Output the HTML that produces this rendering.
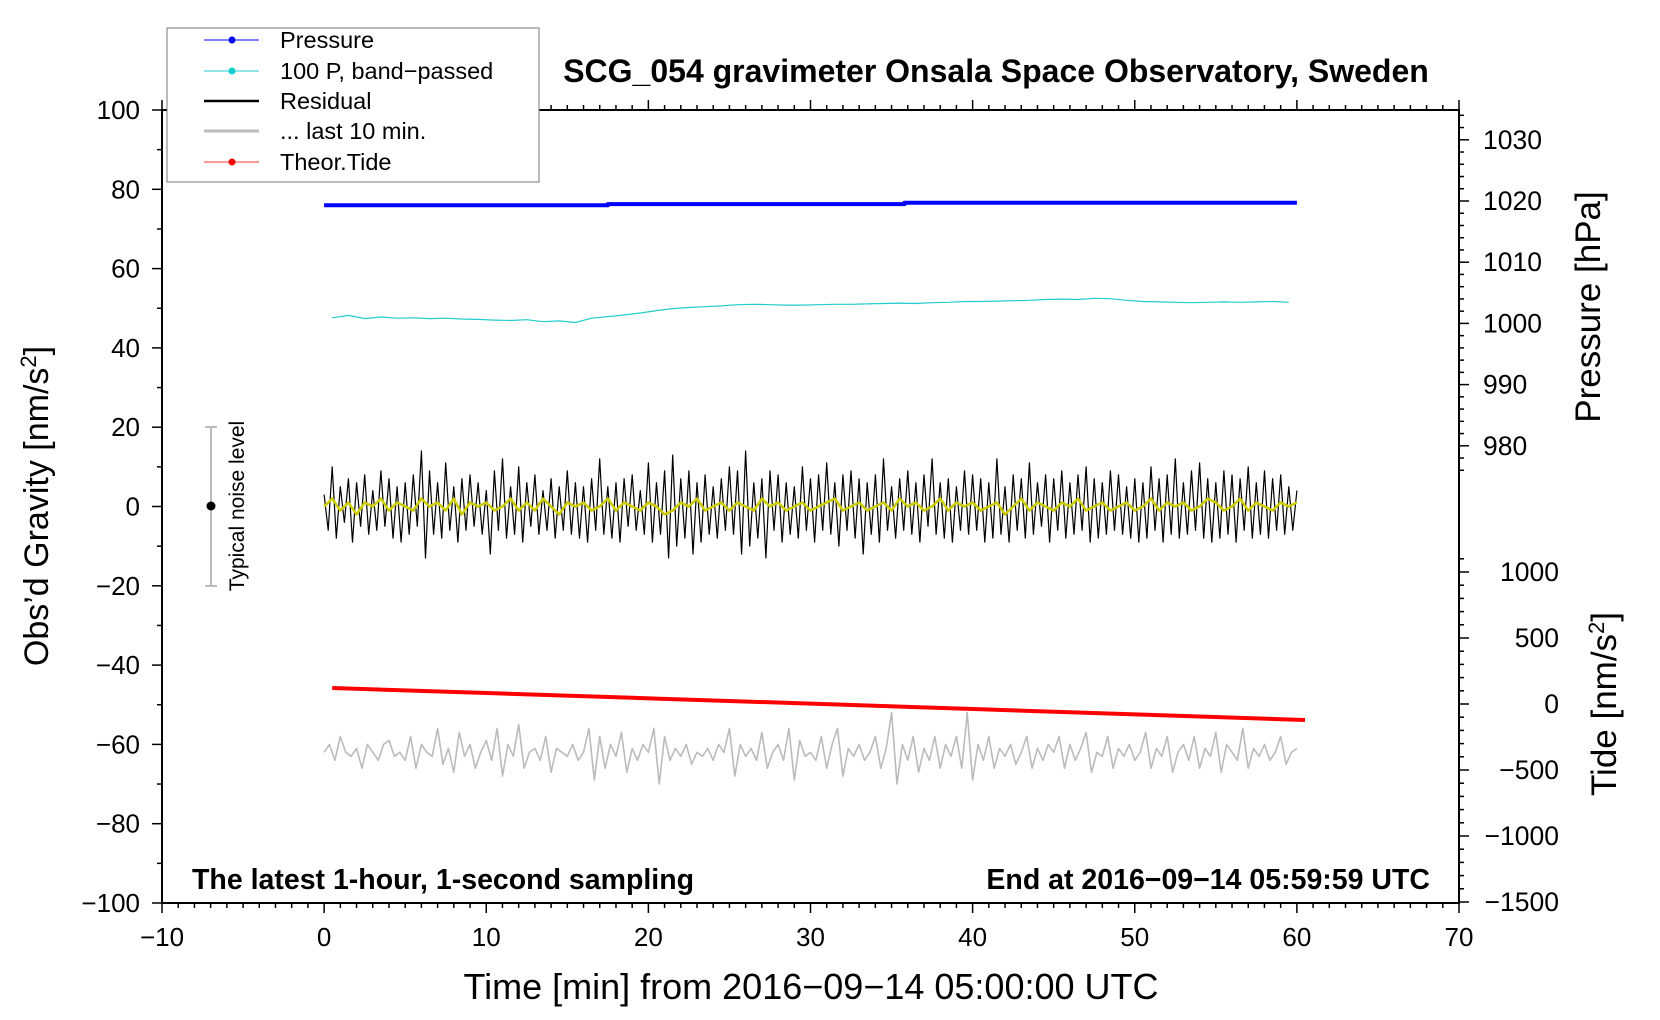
<!DOCTYPE html>
<html><head><meta charset="utf-8">
<style>
html,body{margin:0;padding:0;background:#fff;}
svg{display:block;font-family:"Liberation Sans",Arial,sans-serif;}
</style></head>
<body>
<svg id="chart" width="1660" height="1020" viewBox="0 0 1660 1020" xmlns="http://www.w3.org/2000/svg">
<rect width="1660" height="1020" fill="#fff"/>
<g id="marks"></g>
<g id="axes"></g>
<rect x="162" y="110" width="1297" height="793" fill="none" stroke="#000" stroke-width="2"/>
<g id="legend">
 <rect x="167" y="28" width="372" height="154" fill="#fff" stroke="#777" stroke-width="1"/>
 <g><line x1="204" y1="40" x2="259" y2="40" stroke="#00f" stroke-width="1"/><circle cx="232" cy="40" r="3.5" fill="#00f"/><text x="280" y="48" font-size="23.5">Pressure</text></g>
 <g><line x1="204" y1="71" x2="259" y2="71" stroke="#2cc" stroke-width="1"/><circle cx="232" cy="71" r="3.5" fill="#1cc"/><text x="280" y="79" font-size="23.5">100 P, band−passed</text></g>
 <g><line x1="204" y1="101" x2="259" y2="101" stroke="#000" stroke-width="2.5"/><text x="280" y="109" font-size="23.5">Residual</text></g>
 <g><line x1="204" y1="131" x2="259" y2="131" stroke="#bbb" stroke-width="3"/><text x="280" y="139" font-size="23.5">... last 10 min.</text></g>
 <g><line x1="204" y1="162" x2="259" y2="162" stroke="#f33" stroke-width="1"/><circle cx="232" cy="162" r="3.5" fill="#f00"/><text x="280" y="170" font-size="23.5">Theor.Tide</text></g>
</g>
<text x="996" y="82" font-size="32" font-weight="bold" text-anchor="middle">SCG_054 gravimeter Onsala Space Observatory, Sweden</text>
<text transform="translate(48,506) rotate(-90)" font-size="34" text-anchor="middle">Obs’d Gravity [nm/s<tspan baseline-shift="super" font-size="22">2</tspan>]</text>
<text transform="translate(1600,307) rotate(-90)" font-size="35" text-anchor="middle">Pressure [hPa]</text>
<text transform="translate(1616,704) rotate(-90)" font-size="35" text-anchor="middle">Tide [nm/s<tspan baseline-shift="super" font-size="22">2</tspan>]</text>
<text x="811" y="999" font-size="36" text-anchor="middle">Time [min] from 2016−09−14 05:00:00 UTC</text>
<text x="192" y="889" font-size="28.5" font-weight="bold">The latest 1-hour, 1-second sampling</text>
<text x="1430" y="889" font-size="28.5" font-weight="bold" text-anchor="end">End at 2016−09−14 05:59:59 UTC</text>
<g>
 <line x1="211" y1="427" x2="211" y2="586" stroke="#bbb" stroke-width="2"/>
 <line x1="205" y1="427" x2="217" y2="427" stroke="#bbb" stroke-width="2"/>
 <line x1="205" y1="586" x2="217" y2="586" stroke="#bbb" stroke-width="2"/>
 <circle cx="211" cy="506" r="4.5" fill="#000"/>
 <text transform="translate(244,506) rotate(-90)" font-size="21" text-anchor="middle">Typical noise level</text>
</g>
</svg>
<script>
const timeRes0 = 0, timeResStep = 0.25;
const residual = [
3,-6,10,-8,5,-4,7,-9,6,-5,8,-7,4,-6,9,-5,7,-8,5,-9,
6,-7,8,-5,14,-13,9,-7,6,-8,11,-6,5,-9,7,-6,8,-5,6,-7,
4,-12,9,-6,12,-8,5,-7,10,-9,6,-5,8,-7,4,-6,7,-8,5,-6,
9,-7,6,-8,5,-9,7,-6,12,-7,5,-8,6,-9,7,-5,8,-6,4,-7,
11,-9,6,-7,9,-13,13,-10,7,-8,9,-12,6,-9,8,-7,5,-8,7,-6,
10,-7,9,-12,14,-10,6,-8,7,-13,9,-6,8,-9,6,-7,5,-8,10,-6,
7,-9,8,-6,11,-7,6,-10,8,-6,9,-8,7,-12,6,-7,8,-9,12,-6,
5,-8,7,-6,9,-7,6,-9,8,-5,12,-7,6,-8,7,-9,5,-6,9,-7,
8,-6,7,-9,6,-8,12,-7,5,-9,8,-6,7,-8,11,-7,6,-5,8,-9,
7,-6,9,-8,6,-7,8,-6,10,-9,7,-8,6,-7,9,-6,8,-7,5,-8,
7,-9,6,-8,10,-6,7,-9,8,-7,12,-8,6,-7,9,-6,11,-8,7,-9,
6,-8,9,-7,8,-9,7,-6,10,-8,6,-7,9,-8,7,-6,8,-7,5,-6,4
];
const timeYel0 = 0, timeYelStep = 0.5;
const smoothed = [
0,2,-1,1,-2,1,0,2,-1,1,0,-1,2,0,1,-1,2,-2,1,0,
1,-1,0,2,-1,1,-1,2,0,-2,1,0,1,-1,0,2,-1,1,0,-1,
1,0,-2,-1,1,0,2,-1,0,1,-1,1,0,-1,2,0,1,-1,0,1,
-1,0,1,2,-1,0,1,-1,0,1,-1,2,0,1,-1,0,2,-1,1,0,
1,-1,0,1,-2,0,2,-1,1,0,-1,1,0,2,-1,0,1,-1,0,1,
-1,0,2,-1,1,0,1,-1,0,2,1,-1,0,2,-1,1,0,-1,1,0,1
];
const timeGray0 = 0, timeGrayStep = 1/3;
const lastTen = [
-62,-60,-64,-58,-62,-63,-61,-66,-60,-62,-64,-60,-59,-63,-62,-64,-58,-66,-60,-62,
-63,-56,-65,-61,-67,-57,-63,-60,-66,-62,-59,-64,-56,-68,-60,-63,-55,-66,-62,-61,
-64,-58,-67,-61,-62,-63,-60,-64,-62,-56,-69,-58,-66,-60,-63,-57,-67,-61,-64,-60,
-62,-56,-70,-58,-64,-61,-63,-60,-65,-62,-63,-61,-64,-60,-62,-56,-68,-60,-63,-61,
-64,-57,-66,-62,-60,-64,-56,-69,-59,-63,-62,-64,-58,-66,-60,-56,-68,-61,-63,-60,
-64,-62,-58,-66,-61,-52,-70,-60,-64,-58,-67,-61,-64,-58,-66,-60,-63,-58,-66,-52,
-69,-60,-64,-58,-66,-61,-63,-60,-65,-62,-58,-66,-61,-64,-60,-62,-58,-66,-60,-64,
-61,-57,-67,-62,-63,-58,-66,-61,-63,-60,-64,-62,-57,-66,-61,-63,-58,-67,-62,-60,
-64,-58,-66,-61,-63,-57,-67,-60,-62,-64,-56,-66,-61,-63,-60,-64,-62,-58,-65,-62,-61
];
const timeCyan0 = 0.5, timeCyanStep = 1;
const bandPassed = [
47.6,48.2,47.4,47.8,47.5,47.6,47.4,47.5,47.3,47.2,47.0,46.9,47.1,46.6,46.8,46.4,47.5,47.9,48.3,48.8,
49.4,49.9,50.2,50.4,50.6,50.9,51.0,50.9,50.8,50.8,50.9,51.0,51.0,51.1,51.2,51.3,51.2,51.4,51.5,51.7,
51.7,51.8,51.9,52.0,52.2,52.3,52.2,52.5,52.4,52.0,51.7,51.6,51.5,51.4,51.5,51.6,51.5,51.6,51.7,51.5
];
const timePres = [0, 17.5, 17.5, 35.8, 35.8, 60];
const pressure = [1019.3, 1019.3, 1019.5, 1019.5, 1019.7, 1019.7];
const timeTide = [0.5, 10.5, 20.5, 30.5, 40.5, 50.5, 60.5];
const tide = [121, 81, 41, 1, -40, -80, -121];

const NS = 'http://www.w3.org/2000/svg';
const xScale = t => 162 + (t + 10) * 1297 / 80;
const yGrav = g => 506.5 - g * 793 / 200;
const yPres = p => 201 + (1020 - p) * 6.12;
const yTide = v => 704 - v * 66 / 500;
function mk(tag, attrs, parent) { const e = document.createElementNS(NS, tag); for (const k in attrs) e.setAttribute(k, attrs[k]); parent.appendChild(e); return e; }
const marks = document.getElementById('marks');
const axes = document.getElementById('axes');
function poly(ts, vs, ys, stroke, w, name) {
  const pts = vs.map((v, i) => xScale(ts(i)).toFixed(1) + ',' + ys(v).toFixed(1)).join(' ');
  const el = mk('polyline', {points: pts, fill: 'none', stroke: stroke, 'stroke-width': w, 'stroke-linejoin': 'round'}, marks);
  
  
}
poly(i => timePres[i], pressure, yPres, '#00f', 4, 'pressure-line');
poly(i => timeCyan0 + i * timeCyanStep, bandPassed, yGrav, '#2cc', 1.2, 'band-passed-pressure-line');
poly(i => timeRes0 + i * timeResStep, residual, yGrav, '#000', 1.2, 'residual-line');
poly(i => timeYel0 + i * timeYelStep, smoothed, yGrav, '#cc0', 2.5, 'residual-smoothed-line');
poly(i => timeGray0 + i * timeGrayStep, lastTen, yGrav, '#bbb', 1.6, 'last-ten-min-line');
poly(i => timeTide[i], tide, yTide, '#f00', 4, 'theoretical-tide-line');

for (let t = -10; t <= 70; t++) {
  const x = xScale(t), maj = t % 10 === 0;
  mk('line', {x1: x, y1: 903, x2: x, y2: 903 + (maj ? 10 : 5), stroke: '#000', 'stroke-width': 1.5}, axes);
  mk('line', {x1: x, y1: 110, x2: x, y2: 110 - (maj ? 10 : 5), stroke: '#000', 'stroke-width': 1.5}, axes);
  if (maj) {
    const tx = mk('text', {x: x, y: 946, 'font-size': 26, 'text-anchor': 'middle'}, axes);
    tx.textContent = String(t).replace('-', '−');
    
    
  }
}
for (let g = -100; g <= 100; g += 10) {
  const y = yGrav(g), maj = g % 20 === 0;
  mk('line', {x1: 162, y1: y, x2: 162 - (maj ? 10 : 5), y2: y, stroke: '#000', 'stroke-width': 1.5}, axes);
  if (maj) {
    const tx = mk('text', {x: 140, y: y + 9, 'font-size': 26, 'text-anchor': 'end'}, axes);
    tx.textContent = String(g).replace('-', '−');
    
    
  }
}
for (let p = 976; p <= 1034; p += 2) {
  const y = yPres(p), maj = p % 10 === 0;
  mk('line', {x1: 1459, y1: y, x2: 1459 + (maj ? 10 : 5), y2: y, stroke: '#000', 'stroke-width': 1.5}, axes);
  if (maj && p >= 980 && p <= 1030) {
    const tx = mk('text', {x: 1483, y: y + 9, 'font-size': 26.5}, axes);
    tx.textContent = p;
    
    
  }
}
for (let v = -1500; v <= 1100; v += 100) {
  const y = yTide(v), maj = v % 500 === 0;
  if (y < 110) continue;
  mk('line', {x1: 1459, y1: y, x2: 1459 + (maj ? 10 : 5), y2: y, stroke: '#000', 'stroke-width': 1.5}, axes);
  if (maj && v <= 1000) {
    const tx = mk('text', {x: 1559, y: y + 9, 'font-size': 26.5, 'text-anchor': 'end'}, axes);
    tx.textContent = String(v).replace('-', '−');
    
    
  }
}
</script>
</body></html>
